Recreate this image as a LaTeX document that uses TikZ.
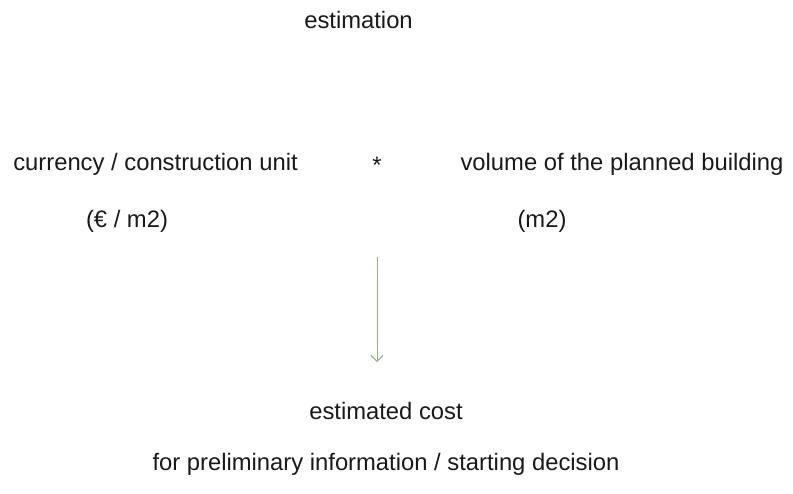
\documentclass[tikz,border=0pt]{standalone}
\usepackage{fontspec}
\setmainfont{Liberation Sans}
\usetikzlibrary{arrows.meta}
\definecolor{arrowgreen}{RGB}{150,175,130}

\begin{document}
\begin{tikzpicture}[x=0.5pt,y=-0.5pt,
    label text/.style={font=\fontsize{11.9}{14}\selectfont, text=black!90, inner sep=0pt}]
\useasboundingbox (0,0) rectangle (793,493);
\node[label text] (est) at (358.5,20) {estimation};
\node[label text] (unitcost) at (155.5,164) {currency / construction unit};
\node[label text] (times) at (377,165) {*};
\node[label text] (volume) at (622,164) {volume of the planned building};
\node[label text] (unitcostdim) at (127,221) {(€ / m2)};
\node[label text] (volumedim) at (542,221) {(m2)};
\node[label text] (cost) at (386,411) {estimated cost};
\node[label text] (purpose) at (386,464) {for preliminary information / starting decision};
\coordinate (arrowtop) at (377,257);
\coordinate (arrowend) at (377,362);
\draw[arrowgreen, line width=0.5pt, -{Straight Barb[length=3pt,width=6pt]}] (arrowtop) -- (arrowend);
\end{tikzpicture}
\end{document}
